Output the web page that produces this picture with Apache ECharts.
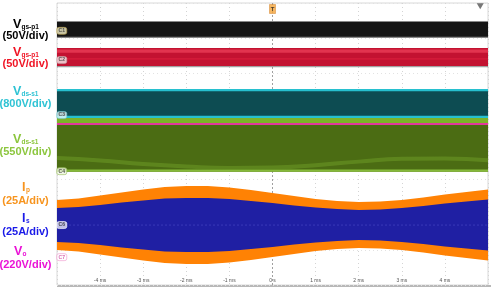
<!DOCTYPE html>
<html>
<head>
<meta charset="utf-8">
<script src="https://cdn.jsdelivr.net/npm/echarts@6/dist/echarts.min.js"></script>
<style>
html,body{margin:0;padding:0;background:#fff;}
#c{width:491px;height:289px;}
</style>
</head>
<body>
<div id="c"></div>
<script>
// ---- data (time in ms, vertical in scope divisions from top) ----
const timeTicks = [-4, -3, -2, -1, 0, 1, 2, 3, 4];
const tickLabels = ['-4 ms', '-3 ms', '-2 ms', '-1 ms', '0 s', '1 ms', '2 ms', '3 ms', '4 ms'];
const bandTime = [-5, 5];
const triggerTime = 0;
// constant channel bands [top, bottom] in divisions
const vgsP1Black = [0.54, 0.96];
const vgsP1Red = [1.28, 1.79];
const vdsS1Teal = [2.50, 3.20];
const vdsS1Green = [3.43, 4.79];
const voLevel = 3.43;
// green-band light streak
const streakTime = [-5, -4, -3, -2, -1, 0, 1, 2, 3, 4, 5];
const streakLevel = [4.40, 4.47, 4.57, 4.64, 4.68, 4.67, 4.60, 4.50, 4.42, 4.41, 4.46];
// current envelopes
const envTime = [-5, -4.5, -4, -3.5, -3, -2.5, -2, -1.5, -1, -0.5, 0, 0.5, 1, 1.5, 2, 2.5, 3, 3.5, 4, 4.5, 5];
const envCenter = 6.30;
const ipHalf = [0.709, 0.752, 0.837, 0.922, 1.007, 1.078, 1.106, 1.106, 1.064, 0.993, 0.908, 0.823, 0.738, 0.681, 0.652, 0.667, 0.709, 0.780, 0.865, 0.936, 1.007];
const isHalf = [0.482, 0.511, 0.567, 0.638, 0.695, 0.752, 0.766, 0.766, 0.738, 0.681, 0.624, 0.553, 0.496, 0.454, 0.426, 0.440, 0.482, 0.539, 0.610, 0.667, 0.723];
// channel tags
const tagNames = ['C1', 'C2', 'C3', 'C4', 'C6', 'C7'];
const tagLevels = [0.79, 1.62, 3.18, 4.77, 6.30, 7.21];

const chart = echarts.init(document.getElementById('c'), null, {renderer: 'canvas'});

// band polygon between lo and hi curves, drawn through the axes
function band(xs, lo, hi, color, z, opacity) {
  const rows = xs.map((x, i) => [x, lo[i], hi[i]]);
  return {
    type: 'custom', silent: true, z: z, animation: false, clip: true,
    data: rows,
    renderItem: function (params, api) {
      if (params.dataIndex !== 0) return null;
      const pts = [];
      rows.forEach(r => pts.push(api.coord([r[0], r[1]])));
      for (let i = rows.length - 1; i >= 0; i--) pts.push(api.coord([rows[i][0], rows[i][2]]));
      return {type: 'polygon', shape: {points: pts},
        style: {fill: color, opacity: opacity == null ? 1 : opacity, stroke: null}};
    }
  };
}
function flat(v) { return bandTime.map(() => v); }

const series = [];
// trigger line (under the traces)
series.push({type: 'line', data: [[triggerTime, 0], [triggerTime, 8]], symbol: 'none', silent: true, z: 1,
  lineStyle: {color: '#a0a0a0', type: [2, 2], width: 1}, animation: false});
// black Vgs
series.push(band(bandTime, flat(vgsP1Black[0] - 0.03), flat(vgsP1Black[1] + 0.03), '#6a6a6a', 3, 0.8));
series.push(band(bandTime, flat(vgsP1Black[0]), flat(vgsP1Black[1]), '#151515', 4));
// red Vgs
series.push(band(bandTime, flat(vgsP1Red[1]), flat(vgsP1Red[1] + 0.03), '#444', 3, 0.5));
series.push(band(bandTime, flat(vgsP1Red[0]), flat(vgsP1Red[1]), '#c31231', 4));
series.push(band(bandTime, flat(vgsP1Red[0] + 0.04), flat(vgsP1Red[0] + 0.13), '#e2344f', 5));
series.push(band(bandTime, flat(vgsP1Red[0] + 0.28), flat(vgsP1Red[0] + 0.33), '#d21a38', 5));
// teal Vds
series.push(band(bandTime, flat(vdsS1Teal[0] - 0.06), flat(vdsS1Teal[1] + 0.06), '#27c0cf', 3));
series.push(band(bandTime, flat(vdsS1Teal[0]), flat(vdsS1Teal[1]), '#0d4c52', 4));
// green Vds
series.push(band(bandTime, flat(vdsS1Teal[1] + 0.06), flat(vdsS1Green[0]), '#7db328', 3));
series.push(band(bandTime, flat(vdsS1Green[0]), flat(vdsS1Green[1]), '#4b6c13', 3));
series.push(band(bandTime, flat(vdsS1Green[1] - 0.07), flat(vdsS1Green[1]), '#86b93b', 4));
series.push({type: 'line', data: streakTime.map((x, i) => [x, streakLevel[i]]), symbol: 'none', smooth: true, silent: true,
  lineStyle: {color: '#6e9b26', width: 4, opacity: 0.55}, z: 4, animation: false});
// Vo magenta line
series.push({type: 'line', data: bandTime.map(x => [x, voLevel]), symbol: 'none', silent: true,
  lineStyle: {color: '#e2379d', width: 2}, z: 6, animation: false});
// Ip (orange) and Is (blue)
series.push(band(envTime, ipHalf.map(a => envCenter - a), ipHalf.map(a => envCenter + a), '#ff8204', 3));
series.push(band(envTime, isHalf.map(a => envCenter - a), isHalf.map(a => envCenter + a), '#1f1fa3', 4));
series.push({type: 'line', data: bandTime.map(x => [x, envCenter]), symbol: 'none', silent: true,
  lineStyle: {color: '#3a3ab8', width: 1, type: [2, 2]}, z: 5, animation: false});
// channel tags
const tagStyle = [
  {fill: '#f6f1c9', border: '#b8a050', text: '#333'},
  {fill: '#f7eced', border: '#c0a0a6', text: '#333'},
  {fill: '#e4f6f7', border: '#6fc8d0', text: '#333'},
  {fill: '#eef5e0', border: '#9ac060', text: '#333'},
  {fill: '#e8e8f6', border: '#ffffff', text: '#222'},
  {fill: '#ffffff', border: '#f09ccf', text: '#d04aa0'}
];
series.push({type: 'scatter', silent: true, z: 10, animation: false,
  symbol: 'roundRect', symbolSize: [10, 7],
  data: tagNames.map((n, i) => ({value: [-4.89, tagLevels[i]],
    itemStyle: {color: tagStyle[i].fill, borderColor: tagStyle[i].border, borderWidth: 0.8},
    label: {show: true, formatter: n, fontSize: 5, color: tagStyle[i].text, fontFamily: 'Liberation Sans', fontWeight: 'bold'}}))
});
// trigger marker and right marker
series.push({type: 'scatter', silent: true, z: 10, animation: false,
  data: [
    {value: [triggerTime, 0.17], symbol: 'rect', symbolSize: [6, 9], itemStyle: {color: '#f5a53a', borderColor: '#c87010', borderWidth: 0.5},
     label: {show: true, formatter: 'T', fontSize: 6, color: '#222', fontWeight: 'bold', fontFamily: 'Liberation Sans'}},
    {value: [4.82, 0.09], symbol: 'triangle', symbolRotate: 180, symbolSize: [7, 6], itemStyle: {color: '#555'}}
  ]
});

// left labels
const F = 'Liberation Sans, Arial, sans-serif';
function lbl(vx, y, main, sub, color, div, dy) {
  const out = [];
  out.push({type: 'text', left: vx, top: y - 7, style: {text: main, font: 'bold 12.5px ' + F, fill: color}});
  out.push({type: 'text', left: vx + (main === 'V' ? 8.5 : 4), top: y - 1, style: {text: sub, font: 'bold 6.5px ' + F, fill: color}});
  out.push({type: 'text', x: 25.5, y: y + dy, style: {text: div, font: 'bold 11px ' + F, fill: color, align: 'center', verticalAlign: 'middle'}});
  return out;
}
const graphics = [].concat(
  lbl(13, 25, 'V', 'gs-p1', '#000000', '(50V/div)', 11),
  lbl(13, 53, 'V', 'gs-p1', '#f01525', '(50V/div)', 11),
  lbl(13, 92, 'V', 'ds-s1', '#2fc3d4', '(800V/div)', 12),
  lbl(13, 140, 'V', 'ds-s1', '#8cc63e', '(550V/div)', 12),
  lbl(22, 188, 'I', 'p', '#f7941e', '(25A/div)', 12.5),
  lbl(22, 219, 'I', 's', '#1a1ae8', '(25A/div)', 13),
  lbl(14, 252, 'V', 'o', '#ea12d6', '(220V/div)', 13),
  [{type: 'rect', shape: {x: 57, y: 285, width: 434, height: 2}, style: {fill: '#b8b8b8'}}]
);

chart.setOption({
  animation: false,
  backgroundColor: '#ffffff',
  grid: {left: 57, right: -6, top: 3, bottom: 4, show: true, borderColor: '#d8d8d8', borderWidth: 1, backgroundColor: '#ffffff'},
  xAxis: {type: 'value', min: -5, max: 5, interval: 1,
    axisLine: {show: false}, axisTick: {show: false},
    axisLabel: {inside: true, margin: 2, fontSize: 5, color: '#555', fontFamily: F,
      formatter: v => { const i = timeTicks.indexOf(v); return i >= 0 ? tickLabels[i] : ''; }},
    splitLine: {show: true, lineStyle: {color: '#d4d4d4', type: [1, 3], width: 1}}},
  yAxis: {type: 'value', min: 0, max: 8, interval: 1, inverse: true,
    axisLine: {show: false}, axisTick: {show: false}, axisLabel: {show: false},
    splitLine: {show: true, lineStyle: {color: '#e2e2e2', type: [1, 3], width: 1}}},
  series: series,
  graphic: graphics
});
</script>
</body>
</html>
